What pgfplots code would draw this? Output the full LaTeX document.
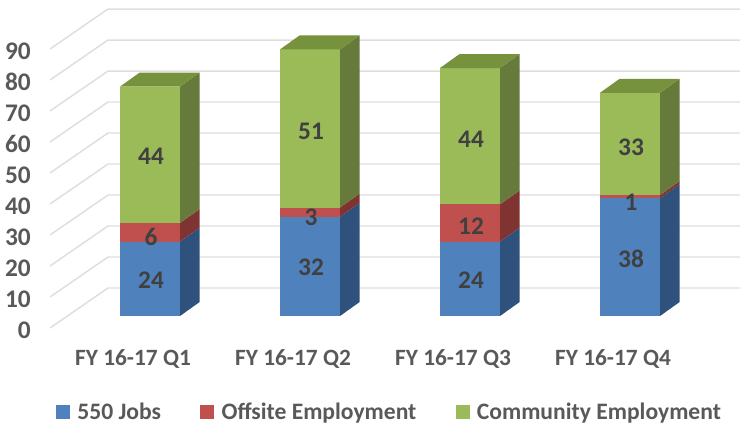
\documentclass[border=0pt]{standalone}
\usepackage{fontspec}
\setmainfont{Carlito}
\usepackage{pgfplots}
\pgfplotsset{compat=1.18}
\definecolor{bluef}{HTML}{4F81BD}
\definecolor{blues}{HTML}{2F527C}
\definecolor{redf}{HTML}{C0504D}
\definecolor{reds}{HTML}{803432}
\definecolor{greenf}{HTML}{9BBB59}
\definecolor{greens}{HTML}{667A3B}
\definecolor{greent}{HTML}{76923C}
\definecolor{gridc}{HTML}{DEDEDE}
\definecolor{tickc}{HTML}{595959}
\definecolor{labc}{HTML}{404040}
% bar half width and depth of the 3D box, in data units
\newcommand{\hw}{0.1875}
\newcommand{\dx}{0.122}
\newcommand{\dy}{4.5}
% one stacked segment: x, bottom, top, front colour, side colour
\newcommand{\seg}[5]{%
  \pgfmathsetmacro\xa{#1-\hw}\pgfmathsetmacro\xb{#1+\hw}\pgfmathsetmacro\xc{\xb+\dx}%
  \pgfmathsetmacro\ya{#2+\dy}\pgfmathsetmacro\yb{#3+\dy}%
  \edef\tmp{\noexpand\addplot[draw=none,fill=#5,forget plot] coordinates {(\xb,#2)(\xc,\ya)(\xc,\yb)(\xb,#3)} --cycle;
    \noexpand\addplot[draw=none,fill=#4,forget plot] coordinates {(\xa,#2)(\xb,#2)(\xb,#3)(\xa,#3)} --cycle;}\tmp}
% lid of a bar: x, height
\newcommand{\lid}[2]{%
  \pgfmathsetmacro\xa{#1-\hw}\pgfmathsetmacro\xb{#1+\hw}\pgfmathsetmacro\xc{\xb+\dx}\pgfmathsetmacro\xd{\xa+\dx}%
  \pgfmathsetmacro\yb{#2+\dy}%
  \edef\tmp{\noexpand\addplot[draw=none,fill=greent,forget plot] coordinates {(\xa,#2)(\xb,#2)(\xc,\yb)(\xd,\yb)} --cycle;}\tmp}
% wall gridline for tick value v
\newcommand{\gridln}[1]{%
  \pgfmathsetmacro\ya{#1-3.87}\pgfmathsetmacro\yb{#1+9.03}%
  \edef\tmp{\noexpand\addplot[gridc,line width=1.1pt,forget plot] coordinates {(-0.625,\ya)(-0.2625,\yb)(3.6875,\yb)};}\tmp}
\newcommand{\val}[3]{\node[font=\fontsize{19}{22}\selectfont\bfseries,text=labc,inner sep=0pt,xshift=0.75pt,yshift=-1.3pt] at (axis cs:#1,#2) {#3};}
\begin{document}
\begin{tikzpicture}
\begin{axis}[
  at={(0,0)},anchor=south west,scale only axis,width=521.25pt,height=246pt,
  xmin=-0.625,xmax=3.71875,ymin=-3.87,ymax=101.94,
  axis line style={draw=none},major tick length=0pt,
  /pgf/number format/assume math mode=true,
  ytick={-3.87,6.13,16.13,26.13,36.13,46.13,56.13,66.13,76.13,86.13},
  yticklabels={0,10,20,30,40,50,60,70,80,90},
  xtick={-0.106,0.894,1.894,2.894},
  xticklabels={FY 16-17 Q1,FY 16-17 Q2,FY 16-17 Q3,FY 16-17 Q4},
  yticklabel style={anchor=east,inner sep=0pt,xshift=-14.25pt,yshift=-1.5pt,text=tickc,font=\fontsize{19}{22}\selectfont\bfseries},
  xticklabel style={anchor=center,inner sep=0pt,yshift=-23.2pt,text=tickc,font=\fontsize{17.5}{20}\selectfont\bfseries},
  legend columns=3,
  legend style={draw=none,fill=none,at={(axis description cs:0.489,-0.256)},anchor=center,
    font=\fontsize{17.7}{20}\selectfont\bfseries,text=tickc,inner sep=0pt,
    /tikz/every even column/.append style={column sep=27.5pt}},
  legend image code/.code={\fill[#1] (0pt,-4.5pt) rectangle (9.75pt,5pt);\path (13.5pt,0pt);},
]
\addlegendimage{bluef}\addlegendentry{550 Jobs}
\addlegendimage{redf}\addlegendentry{Offsite Employment}
\addlegendimage{greenf}\addlegendentry{Community Employment}
\gridln{0}\gridln{10}\gridln{20}\gridln{30}\gridln{40}
\gridln{50}\gridln{60}\gridln{70}\gridln{80}\gridln{90}
% 550 Jobs / Offsite / Community
\seg{0}{0}{24}{bluef}{blues}\seg{0}{24}{30}{redf}{reds}\seg{0}{30}{74}{greenf}{greens}\lid{0}{74}
\seg{1}{0}{32}{bluef}{blues}\seg{1}{32}{35}{redf}{reds}\seg{1}{35}{86}{greenf}{greens}\lid{1}{86}
\seg{2}{0}{24}{bluef}{blues}\seg{2}{24}{36}{redf}{reds}\seg{2}{36}{80}{greenf}{greens}\lid{2}{80}
\seg{3}{0}{38}{bluef}{blues}\seg{3}{38}{39}{redf}{reds}\seg{3}{39}{72}{greenf}{greens}\lid{3}{72}
\val{0}{12}{24}\val{0}{26}{6}\val{0}{52}{44}
\val{1}{16.3}{32}\val{1}{32.4}{3}\val{1}{60}{51}
\val{2}{12}{24}\val{2}{29.5}{12}\val{2}{57.5}{44}
\val{3}{19}{38}\val{3}{37.2}{1}\val{3}{55}{33}
\end{axis}
\pgfresetboundingbox
\path[use as bounding box] (-37.5pt,-72.75pt) rectangle (521.25pt,246pt);
\end{tikzpicture}
\end{document}
